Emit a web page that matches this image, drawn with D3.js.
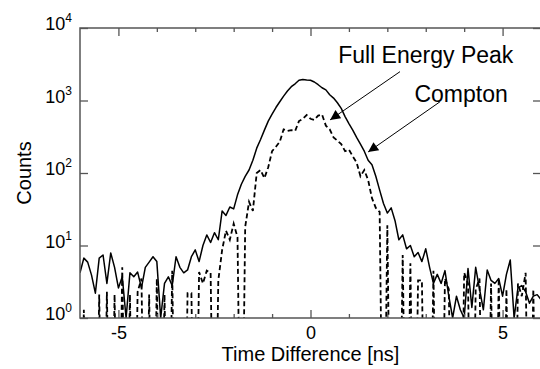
<!DOCTYPE html>
<html>
<head>
<meta charset="utf-8">
<script src="https://cdn.jsdelivr.net/npm/d3@7"></script>
<style>
  body { margin: 0; background: #fff; }
  text { font-family: "Liberation Sans", Arial, sans-serif; fill: #000; }
</style>
</head>
<body>
<script>
// histogram bins: -6.0 ns ... +6.0 ns, 0.1 ns wide
const binStart = -6.0;
const binWidth = 0.1;

// solid curve (counts per bin)
const fullPeak = [
  4.2, 6.7, 5.9, 3.9, 2.2, 6.7, 7.4, 3.0, 7.9, 5.0, 2.6, 3.7, 1.0, 4.2, 3.7, 4.3, 2.6, 5.0, 5.9, 7.0,
  6.0, 1.0, 3.0, 3.7, 2.8, 7.0, 5.0, 4.2, 4.6, 7.0, 8.7, 6.0, 10, 14, 11, 15, 12,
  30, 26, 34, 32, 50, 70, 90, 110, 150, 220, 290, 390, 520, 650, 800, 960, 1150, 1350, 1550, 1700,
  1900, 1950, 1920,
  1900, 1800, 1650, 1500, 1400, 1200, 1080, 930, 780, 600, 480, 390, 310, 250, 200, 150, 130, 90,
  58, 38, 28, 33, 22, 12, 14, 9, 10, 7, 8, 6, 9, 5, 3, 4, 3, 4.5, 2,
  1.0, 2.0, 1.3, 1.0, 4.8, 1.4, 5.0, 2.5, 1.3, 4.6, 3.3, 3.0, 3.5, 2.0, 4.0, 6.3, 1.0, 2.6, 2.8,
  2.3, 1.6, 2.0, 2.1, 1.8
];

// dashed curve (counts per bin, 0 = empty bin)
const compton = [
  0, 1.3, 0, 0, 0, 2.1, 0, 2.3, 0, 2.1, 0, 5, 0, 2.1, 0, 2.3, 3.5, 0, 2.1, 0,
  3.5, 0, 2.1, 0, 4.5, 0, 0, 0, 2.2, 2.2, 0, 4.3, 3, 4.5, 4.2, 0, 3.3, 8.7, 16, 12, 20, 13,
  0, 18, 40, 30, 100, 110, 85, 120, 200, 230, 270, 400, 380, 390, 380, 520, 560, 630,
  560, 540, 620, 640, 450, 400, 310, 280, 250, 200, 210, 170, 140, 90, 110, 80, 45, 33, 29,
  0, 19, 0, 0, 0, 7.4, 0, 5.7, 0, 3.3, 3.3,
  0, 0, 4.5, 0, 0, 3.5, 2.5, 0, 0, 0, 4.2, 3, 0, 2.5, 3.5, 0, 0, 3, 0, 3.5, 0, 2.5, 0, 0, 3, 2,
  4.2, 0, 2.5, 0, 0
];

const xMajorTicks = [-5, 0, 5];
const xMinorTicks = [-4, -3, -2, -1, 1, 2, 3, 4];
const yTicks = [1, 10, 100, 1000, 10000];
const yExponents = ["0", "1", "2", "3", "4"];

const xLabel = "Time Difference [ns]";
const yLabel = "Counts";

// annotation anchors in data units [ns, counts]
const notes = [
  { label: "Full Energy Peak", text: [3.0, 3300], from: [2.33, 2500], to: [0.51, 540] },
  { label: "Compton", text: [3.92, 960], from: [3.37, 960], to: [1.50, 195] }
];

const W = 540, H = 369;
const pL = 80, pR = 541, pT = 28, pB = 318;

const svg = d3.select("body").append("svg")
  .attr("width", W)
  .attr("height", H);

const x = d3.scaleLinear().domain([-6, 6]).range([pL, pR]);
const y = d3.scaleLog().domain([1, 10000]).range([pB, pT]);

svg.append("clipPath").attr("id", "plot")
  .append("rect")
  .attr("x", pL).attr("y", pT)
  .attr("width", pR - pL).attr("height", pB - pT);

const line = d3.line()
  .x((d, i) => x(binStart + i * binWidth))
  .y(d => y(Math.max(d, 0.001)));

const plot = svg.append("g").attr("clip-path", "url(#plot)");

plot.append("path")
  .datum(compton)
  .attr("fill", "none")
  .attr("stroke", "#000")
  .attr("stroke-width", 1.8)
  .attr("stroke-dasharray", "5,3")
  .attr("d", line);

plot.append("path")
  .datum(fullPeak)
  .attr("fill", "none")
  .attr("stroke", "#000")
  .attr("stroke-width", 1.5)
  .attr("stroke-linejoin", "round")
  .attr("d", line);

// axes, ticks pointing inward
const frame = "#555";

function styleAxis(g) {
  g.select(".domain").remove();
  g.selectAll("line").attr("stroke", frame).attr("stroke-width", 1.3);
}

svg.append("g")
  .attr("transform", `translate(0,${pB})`)
  .call(d3.axisBottom(x).tickValues(xMajorTicks).tickSize(-8).tickPadding(8).tickFormat(d => String(d)))
  .call(styleAxis)
  .call(g => g.selectAll("text").attr("font-size", 18).attr("fill", "#000")
    .attr("font-family", "'Liberation Sans', Arial, sans-serif"));

svg.append("g")
  .attr("transform", `translate(0,${pB})`)
  .call(d3.axisBottom(x).tickValues(xMinorTicks).tickSize(-4).tickFormat(""))
  .call(styleAxis);

svg.append("g")
  .attr("transform", `translate(0,${pT})`)
  .call(d3.axisTop(x).tickValues(xMajorTicks).tickSize(-8).tickFormat(""))
  .call(styleAxis);

svg.append("g")
  .attr("transform", `translate(0,${pT})`)
  .call(d3.axisTop(x).tickValues(xMinorTicks).tickSize(-4).tickFormat(""))
  .call(styleAxis);

svg.append("g")
  .attr("transform", `translate(${pL},0)`)
  .call(d3.axisLeft(y).tickValues(yTicks).tickSize(-8).tickFormat(""))
  .call(styleAxis);

svg.append("g")
  .attr("transform", `translate(${pR},0)`)
  .call(d3.axisRight(y).tickValues(yTicks).tickSize(-8).tickFormat(""))
  .call(styleAxis);

svg.append("rect")
  .attr("x", pL).attr("y", pT)
  .attr("width", pR - pL).attr("height", pB - pT)
  .attr("fill", "none")
  .attr("stroke", frame)
  .attr("stroke-width", 1.5);

// y tick labels as 10^n
const yLab = svg.append("g").selectAll("text")
  .data(yTicks)
  .join("text")
  .attr("x", pL - 8)
  .attr("y", d => y(d) + 2)
  .attr("text-anchor", "end")
  .attr("font-size", 18);

yLab.append("tspan").text("10");
yLab.append("tspan")
  .attr("font-size", 12)
  .attr("dy", -8)
  .text((d, i) => yExponents[i]);

svg.append("text")
  .attr("x", (pL + pR) / 2)
  .attr("y", 361)
  .attr("text-anchor", "middle")
  .attr("font-size", 20)
  .text(xLabel);

svg.append("text")
  .attr("transform", `translate(31,${(pT + pB) / 2}) rotate(-90)`)
  .attr("text-anchor", "middle")
  .attr("font-size", 20)
  .text(yLabel);

// annotations with arrows
svg.append("defs").append("marker")
  .attr("id", "head")
  .attr("viewBox", "0 0 10 10")
  .attr("refX", 10).attr("refY", 5)
  .attr("markerWidth", 14).attr("markerHeight", 10)
  .attr("markerUnits", "userSpaceOnUse")
  .attr("orient", "auto")
  .append("path")
  .attr("d", "M0,0L10,5L0,10Z")
  .attr("fill", "#000");

const ann = svg.append("g").selectAll("g")
  .data(notes)
  .join("g");

ann.append("line")
  .attr("x1", d => x(d.from[0])).attr("y1", d => y(d.from[1]))
  .attr("x2", d => x(d.to[0])).attr("y2", d => y(d.to[1]))
  .attr("stroke", "#000")
  .attr("stroke-width", 1)
  .attr("marker-end", "url(#head)");

ann.append("text")
  .attr("x", d => x(d.text[0]))
  .attr("y", d => y(d.text[1]))
  .attr("text-anchor", "middle")
  .attr("font-size", 23)
  .text(d => d.label);
</script>
</body>
</html>
